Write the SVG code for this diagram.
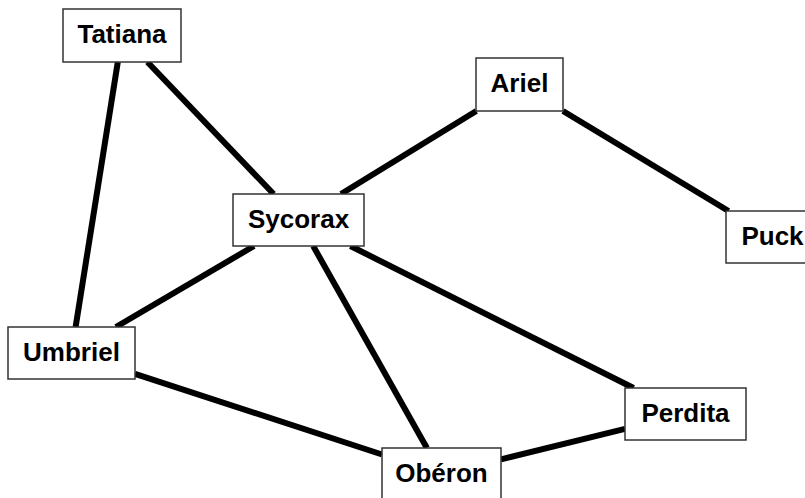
<svg xmlns="http://www.w3.org/2000/svg" width="805" height="498" viewBox="0 0 805 498">
<style>
.box{fill:#fff;stroke:#333;stroke-width:1.5}
.lbl{font-family:"Liberation Sans",Arial,Helvetica,sans-serif;font-weight:bold;font-size:26px;fill:#000;text-anchor:middle}
.edge{stroke:#000;stroke-width:6;stroke-linecap:butt;fill:none}
</style>
<rect width="805" height="498" fill="#fff"/>
<g id="connectors">
<line class="edge" x1="147.4" y1="62" x2="273.6" y2="194"/>
<line class="edge" x1="117.8" y1="62" x2="75.6" y2="327"/>
<line class="edge" x1="476.3" y1="111" x2="341" y2="194"/>
<line class="edge" x1="563" y1="111" x2="728.5" y2="211"/>
<line class="edge" x1="254" y1="246" x2="115.9" y2="327"/>
<line class="edge" x1="350.4" y1="246" x2="633.6" y2="388"/>
<line class="edge" x1="313.2" y1="246" x2="426.9" y2="448"/>
<line class="edge" x1="135" y1="373.8" x2="382" y2="454.5"/>
<line class="edge" x1="625" y1="428.9" x2="501" y2="459.4"/>
</g>
<g id="tatiana"><rect class="box" x="63" y="9" width="118" height="53"/><text class="lbl" x="122" y="43">Tatiana</text></g>
<g id="ariel"><rect class="box" x="476" y="58" width="87" height="53"/><text class="lbl" x="519.5" y="92">Ariel</text></g>
<g id="sycorax"><rect class="box" x="233" y="194" width="131" height="52"/><text class="lbl" x="298.5" y="227.5">Sycorax</text></g>
<g id="puck"><rect class="box" x="726" y="211" width="91" height="52"/><text class="lbl" x="772.5" y="244.5">Puck</text></g>
<g id="umbriel"><rect class="box" x="8" y="327" width="127" height="52"/><text class="lbl" x="71.5" y="360.5">Umbriel</text></g>
<g id="perdita"><rect class="box" x="625" y="388" width="121" height="52"/><text class="lbl" x="685.5" y="421.5">Perdita</text></g>
<g id="oberon"><rect class="box" x="382" y="448" width="119" height="52"/><text class="lbl" x="441.5" y="481.5">Obéron</text></g>
</svg>
